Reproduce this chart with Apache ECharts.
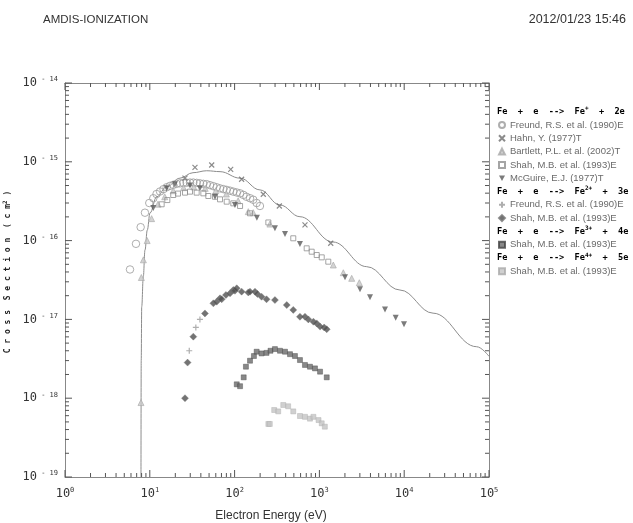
<!DOCTYPE html>
<html>
<head>
<meta charset="utf-8">
<script src="https://cdn.jsdelivr.net/npm/echarts@6/dist/echarts.min.js"></script>
<style>html,body{margin:0;padding:0;background:#fff}#c{width:633px;height:523px}</style>
</head>
<body>
<div id="c"></div>
<script>
// ---------- data ----------
const titleLeft = 'AMDIS-IONIZATION';
const titleRight = '2012/01/23 15:46';
const xAxisTitle = 'Electron Energy (eV)';

const groupHeaders = [
  {base: 'Fe  +  e  -->  Fe', sup: '+', tail: '  +  2e'},
  {base: 'Fe  +  e  -->  Fe', sup: '2+', tail: '  +  3e'},
  {base: 'Fe  +  e  -->  Fe', sup: '3+', tail: '  +  4e'},
  {base: 'Fe  +  e  -->  Fe', sup: '4+', tail: '  +  5e'}
];

// recommended curve (solid line)
const fitCurve = [
  [7.87,1e-19],[7.92,3e-18],[8.03,1.45e-17],[8.38,3.48e-17],[8.78,7.6e-17],[9.34,1.36e-16],
  [10.05,2.24e-16],[12.06,3.6e-16],[15.8,4.83e-16],[22.7,6.2e-16],[32.3,7.27e-16],
  [46.9,7.7e-16],[67.3,7.5e-16],[116,6.2e-16],[199,4.4e-16],[343,2.83e-16],[590,2.01e-16],
  [1445,9.6e-17],[3610,4.67e-17],[8900,2.36e-17],[21900,1.2e-17],[71600,4.5e-18],[100000,3.4e-18]
];

// Fe + e --> Fe+ + 2e
const freundFe1 = [
  [5.84,4.3e-17],[6.87,9.1e-17],[7.8,1.48e-16],[8.77,2.26e-16],[9.86,3.0e-16],[11.0,3.45e-16],
  [12.0,3.9e-16],[13.2,4.2e-16],[14.5,4.5e-16],[15.8,4.75e-16],[17.3,4.95e-16],[18.9,5.1e-16],
  [20.7,5.25e-16],[22.7,5.33e-16],[24.9,5.4e-16],[27.2,5.42e-16],[29.8,5.45e-16],[32.6,5.45e-16],
  [35.7,5.4e-16],[39,5.33e-16],[42.8,5.25e-16],[46.9,5.2e-16],[51.3,5.05e-16],[56.2,4.9e-16],
  [61.5,4.75e-16],[67.3,4.6e-16],[73.7,4.5e-16],[80.7,4.4e-16],[88.4,4.3e-16],[96.6,4.18e-16],
  [106,4.08e-16],[116,3.98e-16],[127,3.8e-16],[138,3.6e-16],[152,3.45e-16],[166,3.3e-16],
  [182,3.0e-16],[199,2.75e-16]
];
const hahnFe1 = [
  [26,6.2e-16],[34.1,8.5e-16],[53.7,9.1e-16],[89.9,8.0e-16],[121,6.0e-16],[218,3.87e-16],
  [337,2.75e-16],[676,1.58e-16],[1360,9.25e-17]
];
const bartlettFe1 = [
  [7.87,8.8e-19],[7.95,3.4e-17],[8.4,5.7e-17],[9.3,1.0e-16],[10.5,1.9e-16],[12.5,2.9e-16],
  [15,3.6e-16],[18.9,4.3e-16],[25,4.7e-16],[33,4.8e-16],[45,4.6e-16],[60,4.3e-16],[80,3.9e-16],
  [110,3.2e-16],[145,2.33e-16],[166,2.26e-16],[261,1.62e-16],[1459,4.9e-17],[1914,3.91e-17],
  [2404,3.32e-17],[2955,2.92e-17]
];
const shahFe1 = [
  [13.8,2.89e-16],[16.1,3.27e-16],[18.9,3.79e-16],[21.5,3.95e-16],[26,4.06e-16],[29.8,4.18e-16],
  [35.7,4.06e-16],[42.8,3.98e-16],[49,3.68e-16],[58.7,3.6e-16],[67.3,3.34e-16],[80.7,3.12e-16],
  [96.6,2.97e-16],[116,2.75e-16],[152,2.22e-16],[250,1.7e-16],[492,1.07e-16],[708,7.98e-17],
  [811,7.23e-17],[930,6.56e-17],[1065,6.13e-17],[1273,5.4e-17]
];
const mcguireFe1 = [
  [11,2.6e-16],[15.8,4.6e-16],[19.8,5.2e-16],[29.8,5.0e-16],[39,4.6e-16],[58.7,3.6e-16],
  [101,2.83e-16],[183,1.95e-16],[299,1.43e-16],[393,1.21e-16],[590,9.06e-17],[2004,3.42e-17],
  [3012,2.41e-17],[3954,1.91e-17],[5938,1.34e-17],[7943,1.05e-17],[9950,8.67e-18]
];

// Fe + e --> Fe2+ + 3e
const freundFe2 = [[29.2,4.0e-18],[34.9,7.9e-18],[39,1.0e-17]];
const shahFe2 = [
  [26,1.0e-18],[27.9,2.83e-18],[32.6,6.04e-18],[44.7,1.19e-17],[56.2,1.6e-17],[61.5,1.68e-17],
  [67.3,1.85e-17],[70.4,1.8e-17],[79,2.04e-17],[88.4,2.14e-17],[96.6,2.36e-17],[101,2.31e-17],
  [106,2.48e-17],[121,2.25e-17],[145,2.2e-17],[152,2.25e-17],[174,2.25e-17],[186,2.1e-17],
  [208,1.94e-17],[238,1.8e-17],[299,1.76e-17],[412,1.52e-17],[492,1.32e-17],[590,1.08e-17],
  [676,1.08e-17],[741,1.0e-17],[850,9.35e-18],[930,8.9e-18],[1018,8.1e-18],[1138,7.9e-18],
  [1220,7.5e-18]
];

// Fe + e --> Fe3+ + 4e
const shahFe3 = [
  [106,1.5e-18],[116,1.42e-18],[128,1.84e-18],[136,2.51e-18],[152,2.99e-18],[169,3.43e-18],
  [182,3.89e-18],[208,3.7e-18],[238,3.76e-18],[265,4.0e-18],[299,4.2e-18],[343,4.0e-18],
  [393,3.89e-18],[450,3.62e-18],[515,3.43e-18],[590,3.05e-18],[676,2.64e-18],[774,2.51e-18],
  [887,2.39e-18],[1018,2.17e-18],[1220,1.84e-18]
];

// Fe + e --> Fe4+ + 5e
const shahFe4 = [
  [250,4.71e-19],[260,4.71e-19],[293,7.08e-19],[327,6.8e-19],[375,8.2e-19],[428,7.9e-19],
  [492,6.8e-19],[590,5.94e-19],[676,5.8e-19],[774,5.5e-19],[850,5.8e-19],[977,5.28e-19],
  [1065,4.8e-19],[1159,4.35e-19]
];

// axis ranges / tick values
const xMin = 1, xMax = 1e5, yMin = 1e-19, yMax = 1e-14;
const xDecades = [1, 10, 100, 1000, 10000, 100000];
const yDecades = [1e-19, 1e-18, 1e-17, 1e-16, 1e-15, 1e-14];
const minorMultipliers = [2, 3, 4, 5, 6, 7, 8, 9];

// legend labels (zero-width spaces keep repeated names distinct)
const ZW = '\u200b';
const legendGroup1 = ['Freund, R.S. et al. (1990)E','Hahn, Y. (1977)T','Bartlett, P.L. et al. (2002)T','Shah, M.B. et al. (1993)E','McGuire, E.J. (1977)T'];
const legendGroup2 = ['Freund, R.S. et al. (1990)E' + ZW, 'Shah, M.B. et al. (1993)E' + ZW];
const legendGroup3 = ['Shah, M.B. et al. (1993)E' + ZW + ZW];
const legendGroup4 = ['Shah, M.B. et al. (1993)E' + ZW + ZW + ZW];

// ---------- chart ----------
const chart = echarts.init(document.getElementById('c'), null, {renderer: 'canvas'});

const GRID = {left: 65, right: 144, top: 83, bottom: 46, containLabel: false, outerBoundsMode: 'none'};
const MONO = '"DejaVu Sans Mono", monospace';
const SANS = '"Liberation Sans", Arial, sans-serif';
const ROW = 13.3;

// tick marks (all four sides, inward)
const tickData = [];
function addTicks(vals, len) {
  vals.forEach(v => {
    if (v >= xMin && v <= xMax) { tickData.push([v, yMin, 0, len]); tickData.push([v, yMax, 1, len]); }
  });
}
function addYTicks(vals, len) {
  vals.forEach(v => {
    if (v >= yMin && v <= yMax) { tickData.push([xMin, v, 2, len]); tickData.push([xMax, v, 3, len]); }
  });
}
addTicks(xDecades, 7);
xDecades.forEach(d => addTicks(minorMultipliers.map(m => m * d), 4));
addYTicks(yDecades, 7);
yDecades.forEach(d => addYTicks(minorMultipliers.map(m => m * d), 4));

const supStyle = {fontSize: 7, fontFamily: MONO, color: '#333', lineHeight: 8, verticalAlign: 'top'};

function scatter(name, data, symbol, size, style, rotate) {
  return {
    type: 'scatter', name: name, data: data, symbol: symbol, symbolSize: size,
    symbolRotate: rotate || 0, itemStyle: style, z: 3, emphasis: {disabled: true}, silent: true
  };
}

const X_PATH = 'path://M0,0L10,10M10,0L0,10';
const PLUS_PATH = 'path://M5,0L5,10M0,5L10,5';
const DOWN_TRI = 'path://M0,0L10,0L5,9Z';

const legendBase = {
  orient: 'vertical', left: 498, padding: 0, itemGap: 0, itemWidth: 6, itemHeight: 6,
  selectedMode: false,
  textStyle: {fontSize: 9.5, color: '#6a6a6a', fontFamily: SANS, lineHeight: ROW}
};

// header centres (y) and first legend item centres
const headerCentres = [111.7, 191.5, 231.4, 258];
const legendFirst = [125, 204.8, 244.7, 271.3];

const legendData = [
  legendGroup1.map(n => n === 'McGuire, E.J. (1977)T' ? {name: n, icon: DOWN_TRI} : n),
  legendGroup2, legendGroup3, legendGroup4
];

const headerGraphics = groupHeaders.map((h, i) => ({
  type: 'text', left: 497, top: headerCentres[i] - 6,
  style: {
    text: '{b|' + h.base + '}{s|' + h.sup + '}{b|' + h.tail + '}',
    rich: {
      b: {fontSize: 8.6, fontWeight: 'bold', fontFamily: MONO, color: '#111', lineHeight: 12},
      s: {fontSize: 6, fontWeight: 'bold', fontFamily: MONO, color: '#111', lineHeight: 7, verticalAlign: 'top'}
    }
  }
}));

chart.setOption({
  animation: false,
  backgroundColor: '#fff',
  grid: GRID,
  graphic: [
    {type: 'text', left: 43, top: 14, style: {text: titleLeft, fontSize: 11.5, fontFamily: SANS, fill: '#333'}},
    {type: 'text', right: 7, top: 13.5, style: {text: titleRight, fontSize: 12.5, fontFamily: SANS, fill: '#333'}},
    ...headerGraphics
  ],
  legend: legendFirst.map((c, i) => Object.assign({}, legendBase, {top: c - ROW / 2, data: legendData[i]})),
  xAxis: [{
    type: 'log', logBase: 10, min: xMin, max: xMax,
    name: xAxisTitle, nameLocation: 'middle', nameGap: 33,
    nameTextStyle: {fontSize: 12, fontFamily: SANS, color: '#333', padding: [0, 12, 0, 0]},
    axisLine: {show: true, lineStyle: {color: '#888', width: 1}},
    axisTick: {show: false}, splitLine: {show: false}, minorTick: {show: false},
    axisLabel: {
      margin: 10, showMinLabel: true, showMaxLabel: true,
      formatter: v => '{b|10}{s|' + Math.round(Math.log10(v)) + '}',
      rich: {b: {fontSize: 12, fontFamily: MONO, color: '#333', lineHeight: 14}, s: supStyle}
    }
  }, {
    type: 'log', logBase: 10, min: xMin, max: xMax, position: 'top',
    axisLine: {show: true, lineStyle: {color: '#888', width: 1}},
    axisTick: {show: false}, axisLabel: {show: false}, splitLine: {show: false}
  }],
  yAxis: [{
    type: 'log', logBase: 10, min: yMin, max: yMax,
    name: '{a|C r o s s  S e c t i o n  ( c m}{s|2}{a| )}',
    nameLocation: 'middle', nameGap: 48, nameRotate: 90,
    nameTextStyle: {
      padding: [0, 0, 0, 16],
      rich: {
        a: {fontSize: 8, fontWeight: 'bold', fontFamily: MONO, color: '#222', lineHeight: 10},
        s: {fontSize: 6, fontWeight: 'bold', fontFamily: MONO, color: '#222', lineHeight: 6, verticalAlign: 'top'}
      }
    },
    axisLine: {show: true, lineStyle: {color: '#888', width: 1}},
    axisTick: {show: false}, splitLine: {show: false}, minorTick: {show: false},
    axisLabel: {
      margin: 7, showMinLabel: true, showMaxLabel: true,
      formatter: v => {
        const e = Math.round(Math.log10(v));
        return '{b|10}{s| - ' + Math.abs(e) + '}';
      },
      rich: {b: {fontSize: 12, fontFamily: MONO, color: '#333', lineHeight: 14}, s: supStyle}
    }
  }, {
    type: 'log', logBase: 10, min: yMin, max: yMax, position: 'right',
    axisLine: {show: true, lineStyle: {color: '#888', width: 1}},
    axisTick: {show: false}, axisLabel: {show: false}, splitLine: {show: false}
  }],
  series: [
    {
      type: 'custom', name: 'ticks', silent: true, clip: false, z: 4,
      data: tickData,
      renderItem: (params, api) => {
        const p = api.coord([api.value(0), api.value(1)]);
        const side = api.value(2), len = api.value(3);
        let q;
        if (side === 0) q = [p[0], p[1] - len];
        else if (side === 1) q = [p[0], p[1] + len];
        else if (side === 2) q = [p[0] + len, p[1]];
        else q = [p[0] - len, p[1]];
        return {type: 'line', shape: {x1: p[0], y1: p[1], x2: q[0], y2: q[1]},
                style: {stroke: '#555', lineWidth: 1}};
      }
    },
    {
      type: 'line', name: 'fit', data: fitCurve, showSymbol: false, symbol: 'none',
      smooth: 0.4, smoothMonotone: 'x', lineStyle: {color: '#8c8c8c', width: 1}, z: 2, silent: true
    },
    scatter(legendGroup1[0], freundFe1, 'circle', 7.5, {color: 'rgba(255,255,255,0)', borderColor: '#9a9a9a', borderWidth: 1}),
    scatter(legendGroup1[1], hahnFe1, X_PATH, 5, {color: 'rgba(255,255,255,0)', borderColor: '#6e6e6e', borderWidth: 1.2}),
    scatter(legendGroup1[2], bartlettFe1, 'triangle', 6, {color: '#c8c8c8', borderColor: '#a8a8a8', borderWidth: 0.8}),
    scatter(legendGroup1[3], shahFe1, 'rect', 5, {color: 'rgba(255,255,255,0)', borderColor: '#8e8e8e', borderWidth: 1}),
    scatter(legendGroup1[4], mcguireFe1, 'triangle', 6, {color: '#5a5a5a'}, 180),
    scatter(legendGroup2[0], freundFe2, PLUS_PATH, 6, {color: 'rgba(255,255,255,0)', borderColor: '#9a9a9a', borderWidth: 1.2}),
    scatter(legendGroup2[1], shahFe2, 'diamond', 7, {color: '#505050', borderColor: '#777', borderWidth: 0.5}),
    scatter(legendGroup3[0], shahFe3, 'rect', 5, {color: '#6a6a6a', borderColor: '#444', borderWidth: 0.5}),
    scatter(legendGroup4[0], shahFe4, 'rect', 5, {color: '#c4c4c4', borderColor: '#aaa', borderWidth: 0.5})
  ]
});
</script>
</body>
</html>
